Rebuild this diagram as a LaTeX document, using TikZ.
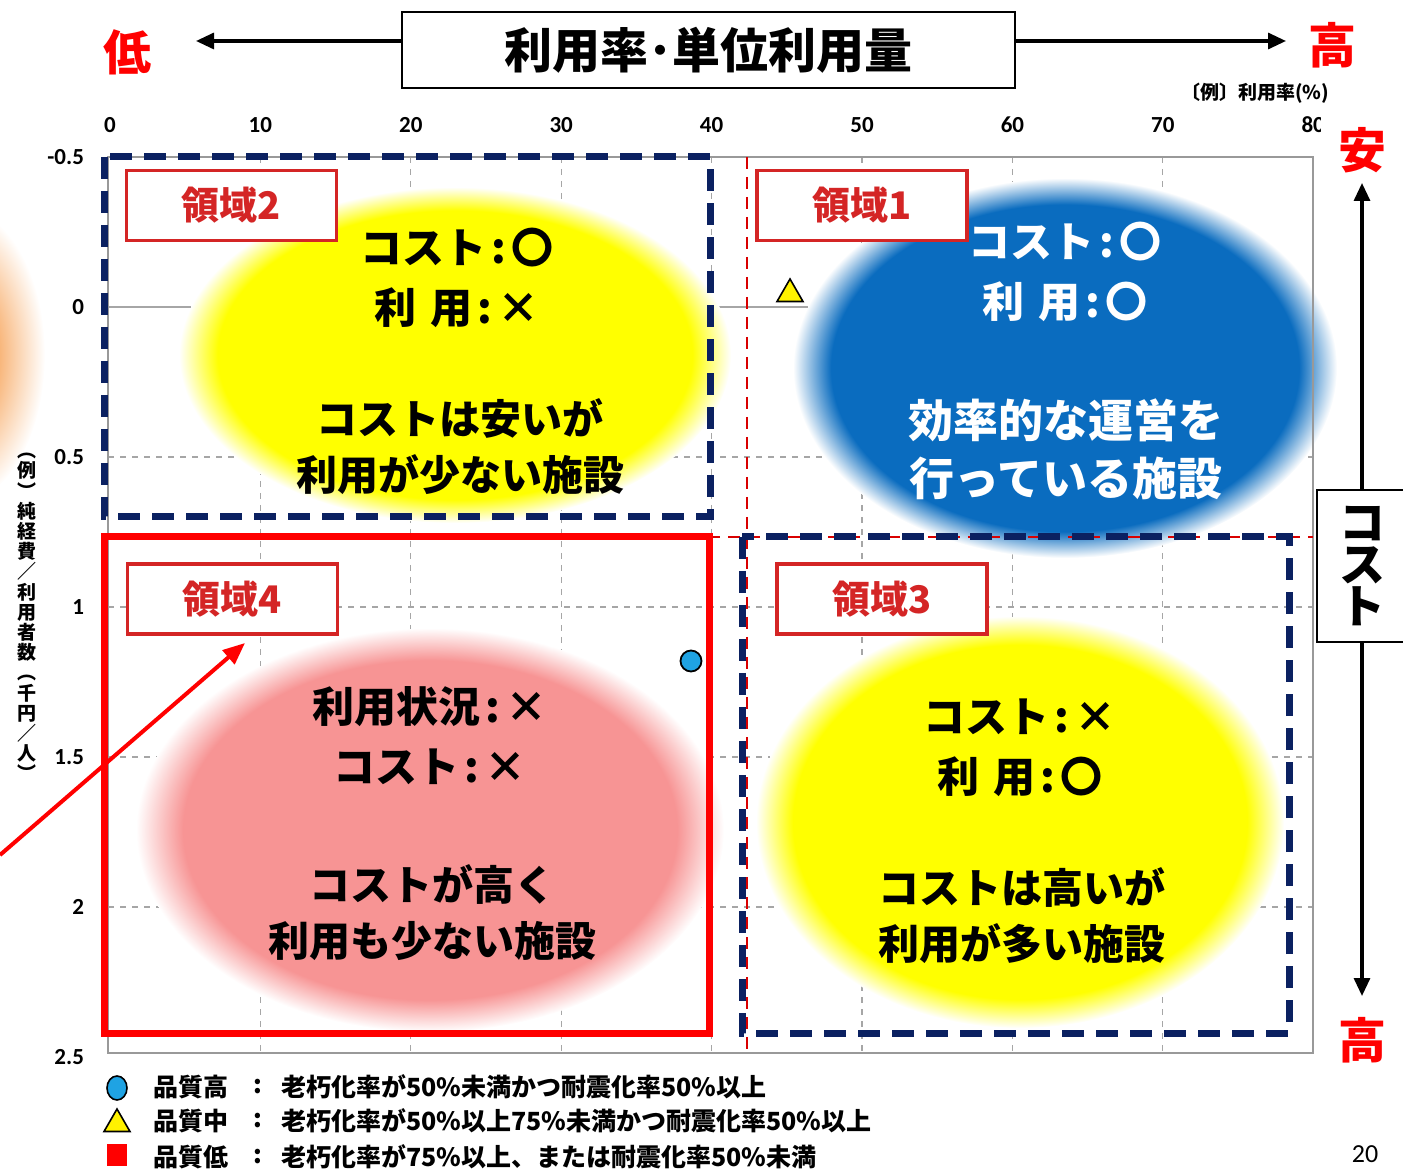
\documentclass[tikz,border=0pt]{standalone}
\usepackage{fontspec}
\setmainfont{Noto Sans CJK JP}
\newfontfamily\numfont{Carlito}
\usepackage{xcolor}
\usepackage{tikz}
\usetikzlibrary{arrows.meta, positioning, shapes.geometric}

\definecolor{navy}{HTML}{0B2161}
\definecolor{lblred}{HTML}{D42525}
\definecolor{blobyellow}{HTML}{FFFF00}
\definecolor{blobblue}{HTML}{0A6CBF}
\definecolor{blobpink}{HTML}{F79494}
\definecolor{bloborange}{HTML}{F8B477}
\definecolor{ptblue}{HTML}{1FA3E3}

% soft edged blobs (path box = middle 50bp of the shading)
\pgfdeclareradialshading{yblob}{\pgfpoint{0bp}{0bp}}{color(0bp)=(blobyellow); color(21.5bp)=(blobyellow); color(25bp)=(white)}
\pgfdeclareradialshading{bblob}{\pgfpoint{0bp}{0bp}}{color(0bp)=(blobblue); color(21.5bp)=(blobblue); color(25bp)=(white)}
\pgfdeclareradialshading{pblob}{\pgfpoint{0bp}{0bp}}{color(0bp)=(blobpink); color(21bp)=(blobpink); color(25bp)=(white)}
\pgfdeclareradialshading{oblob}{\pgfpoint{0bp}{0bp}}{color(0bp)=(bloborange); color(12bp)=(bloborange); color(25bp)=(white)}

\tikzset{
	gridline/.style={gray!70, dashed, line width=0.6pt},
	navydash/.style={navy, line width=3.5pt, dash pattern=on 11pt off 6pt},
	reddash/.style={red!85!black, line width=0.9pt, dash pattern=on 6pt off 4pt},
	areabox/.style={draw=lblred, line width=1.6pt, fill=white, text=lblred,
		minimum width=105pt, minimum height=35pt, font=\bfseries\fontsize{19}{19}\selectfont},
	bigtxt/.style={align=center, font=\bfseries\fontsize{21}{30}\selectfont},
	subtxt/.style={align=center, font=\bfseries\fontsize{20.5}{28}\selectfont},
	tick/.style={font=\numfont\bfseries\fontsize{11.5}{11.5}\selectfont},
	axarrow/.style={line width=1.6pt, -{Triangle[length=9pt,width=8pt]}},
	hilo/.style={text=red, font=\bfseries\fontsize{24}{24}\selectfont},
	legtxt/.style={anchor=west, font=\bfseries\fontsize{12.5}{12.5}\selectfont},
}
\newcommand{\cln}{\hspace{0.12em}:\hspace{0.12em}}
\newcommand{\gap}{\hspace{0.35em}}

\begin{document}
\begin{tikzpicture}[x=0.5pt, y=-0.5pt]
	\useasboundingbox (0,0) rectangle (1403,1170);
	
	% grid
	\foreach \v in {10,20,...,70}
		\draw[gridline] ({110+15.04*\v},157) -- ({110+15.04*\v},1053);
	\foreach \c in {0.5,1,1.5,2}
		\draw[gridline] (108,{307+300*\c}) -- (1313,{307+300*\c});
	\draw[gray!70, line width=0.6pt] (108,307) -- (1313,307);
	
	% blobs
	\shade[shading=oblob] (-45,355) ellipse [x radius=45pt, y radius=75pt];
	\shade[shading=yblob] (455,355) ellipse [x radius=138pt, y radius=84pt];
	\shade[shading=bblob] (1065,368) ellipse [x radius=136pt, y radius=95pt];
	\shade[shading=pblob] (430,830) ellipse [x radius=147pt, y radius=101pt];
	\shade[shading=yblob] (1020,822) ellipse [x radius=132pt, y radius=103pt];
	
	\draw[gray!80, line width=0.8pt] (108,157) rectangle (1313,1053);
	
	% threshold lines
	\draw[reddash] (747,157) -- (747,1053);
	\draw[reddash] (708,537) -- (1313,537);
	
	% area frames
	\draw[navydash] (104,157) rectangle (710,517);
	\draw[navydash] (742,537) rectangle (1289,1033);
	\draw[red, line width=3.5pt] (104,537) rectangle (709,1033);
	
	% tick labels
	\begin{scope}
		\clip (0,100) rectangle (1320,150);
		\foreach \v in {0,10,...,80}
			\node[tick] at ({110+15.04*\v},125) {\v};
	\end{scope}
	\foreach \c/\t in {-0.5/-0.5, 0/0, 0.5/0.5, 1/1, 1.5/1.5, 2/2, 2.5/2.5}
		\node[tick, anchor=east] at (91,{307+300*\c}) {\t};
	\node[font=\bfseries\fontsize{9.5}{9.5}\selectfont] (xname) at (1255,93) {〔例〕利用率(\%)};
	\node[align=center, font=\bfseries\fontsize{9.5}{10.1}\selectfont] (yname) at (27,617)
		{︵\\例\\︶\\純\\経\\費\\／\\利\\用\\者\\数\\︵\\千\\円\\／\\人\\︶};
	
	% area labels
	\node[areabox] (a2) at (231.5,205.5) {領域2};
	\node[areabox] (a1) at (862,205.5) {領域1};
	\node[areabox] (a4) at (232.5,599) {領域4};
	\node[areabox] (a3) at (882,599) {領域3};
	
	% area texts
	\node[bigtxt] (t2a) at (457,278) {コスト\cln〇\\利\gap 用\cln ×};
	\node[subtxt] (t2b) at (460,447) {コストは安いが\\利用が少ない施設};
	\node[bigtxt, text=white] (t1a) at (1065,272) {コスト\cln〇\\利\gap 用\cln〇};
	\node[bigtxt, text=white, font=\bfseries\fontsize{22.5}{29}\selectfont] (t1b) at (1066,449) {効率的な運営を\\行っている施設};
	\node[bigtxt] (t4a) at (430,736) {利用状況\cln ×\\コスト\cln ×};
	\node[subtxt] (t4b) at (432,913) {コストが高く\\利用も少ない施設};
	\node[bigtxt] (t3a) at (1020,748) {コスト\cln ×\\利\gap 用\cln〇};
	\node[subtxt] (t3b) at (1022,916) {コストは高いが\\利用が多い施設};
	
	% sample facilities
	\node[circle, draw, line width=0.9pt, fill=ptblue, minimum size=10.5pt, inner sep=0pt] (fac1) at (691,661) {};
	\node[regular polygon, regular polygon sides=3, draw, line width=0.8pt, fill=yellow, minimum size=15pt, inner sep=0pt] (fac2) at (790,294) {};
	
	% arrow into area 4
	\coordinate (offpage) at (0,855);
	\coordinate (a4tip) at (245,643);
	\draw[red, line width=2pt, -{Triangle[length=11pt,width=9pt]}] (offpage) -- (a4tip);
	
	% usage axis
	\node[draw, fill=white, line width=1pt, minimum width=306.5pt, minimum height=38pt,
		font=\bfseries\fontsize{24}{24}\selectfont] (title) at (708.5,50) {利用率･単位利用量};
	\coordinate (lowend) at (196,41);
	\coordinate (highend) at (1286,41);
	\draw[axarrow] (lowend -| title.west) -- (lowend);
	\draw[axarrow] (highend -| title.east) -- (highend);
	\node[hilo] (low) at (127,52) {低};
	\node[hilo] (high) at (1332,45) {高};
	
	% cost axis
	\node[draw, fill=white, line width=1pt, minimum width=45pt, minimum height=76pt, align=center,
		font=\bfseries\fontsize{23}{21}\selectfont] (cost) at (1362,566) {コ\\ス\\ト};
	\coordinate (cheapend) at (1362,183);
	\coordinate (dearend) at (1362,996);
	\draw[axarrow] (cost.north) -- (cheapend);
	\draw[axarrow] (cost.south) -- (dearend);
	\node[hilo] (cheap) at (1362,150) {安};
	\node[hilo] (dear) at (1362,1040) {高};
	
	% legend
	\node[ellipse, draw, line width=0.8pt, fill=ptblue, minimum width=10pt, minimum height=12pt, inner sep=0pt] (kh) at (117,1088) {};
	\node[regular polygon, regular polygon sides=3, draw, line width=0.8pt, fill=yellow, minimum size=15pt, inner sep=0pt] (km) at (117,1124) {};
	\node[fill=red, minimum width=10pt, minimum height=11pt, inner sep=0pt] (kl) at (117,1155) {};
	\node[legtxt] (lh) at (146,1087) {品質高};
	\node[legtxt] (lm) at (146,1121) {品質中};
	\node[legtxt] (ll) at (146,1157) {品質低};
	\foreach \y in {1087,1121,1157}
		\node[legtxt] at (246,\y) {:};
	\node[legtxt] (dh) at (274,1087) {老朽化率が50\%未満かつ耐震化率50\%以上};
	\node[legtxt] (dm) at (274,1121) {老朽化率が50\%以上75\%未満かつ耐震化率50\%以上};
	\node[legtxt] (dl) at (274,1157) {老朽化率が75\%以上、または耐震化率50\%未満};
	
	\node[font=\numfont\fontsize{13}{13}\selectfont] (pageno) at (1365,1154) {20};
\end{tikzpicture}
\end{document}
